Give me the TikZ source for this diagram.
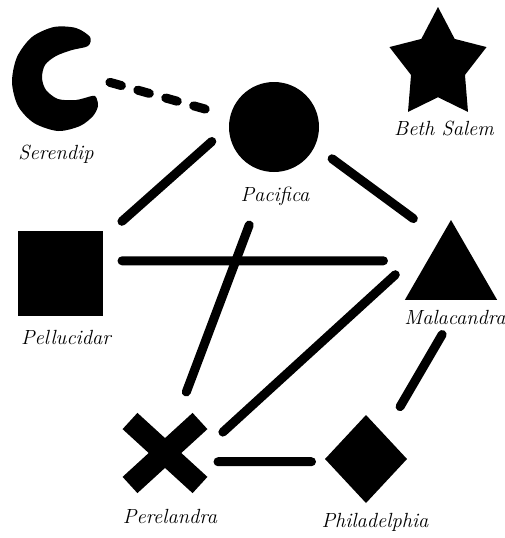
\documentclass[tikz,border=0pt]{standalone}
\usetikzlibrary{shapes.geometric,shapes.misc}
\begin{document}
\begin{tikzpicture}[x=1pt,y=-1pt,line cap=round,
  blob/.style={fill=black,inner sep=0pt,outer sep=0pt},
  road/.style={line width=9pt},
  dashes/.style={dash pattern=on 12pt off 17pt},
  lbl/.style={font=\fontsize{20.5}{23}\selectfont\itshape}]
\useasboundingbox (0,0) rectangle (505,538);
% places
\node[circle,inner sep=0pt,outer sep=0pt,minimum size=96pt] (ser) at (62,79) {};
\fill plot[smooth cycle,tension=0.5] coordinates {(90,37) (76,28) (54,27) (32,37) (17,57) (12,82) (18,106) (34,123) (58,131) (80,126) (93,116) (98,106) (96,97) (92,96) (76,100) (58,99) (46,90) (42,78) (45,65) (56,56) (72,50) (88,46)};
\node[blob,circle,minimum size=90pt] (pac) at (274,127) {};
\node[blob,star,star points=5,star point ratio=1.8,minimum size=116pt,xscale=0.88] (beth) at (438,65) {};
\node[blob,rectangle,minimum size=85pt] (pel) at (60,273) {};
\node[blob,regular polygon,regular polygon sides=3,minimum size=106.6pt] (mal) at (451,273.3) {};
\node[blob,diamond,minimum width=82pt,minimum height=88pt] (phi) at (366,459) {};
\node[cross out,draw,line width=22pt,line cap=butt,inner sep=0pt,outer sep=0pt,minimum width=70pt,minimum height=64pt] (per) at (165,453) {};
% roads
\draw[road,dashes,shorten >=19pt] (ser.-4) -- (pac.166);
\draw[road,shorten <=26pt,shorten >=23pt] (pel.39) -- (pac.179);
\draw[road,shorten <=21.5pt,shorten >=33.5pt] (pac.-25) -- (mal.107);
\draw[road,shorten <=19.5pt,shorten >=44pt] (pel.16) -- (mal.152);
\draw[road,shorten <=57pt,shorten >=31pt] (pac.-96) -- (per.72);
\draw[road,shorten <=69pt,shorten >=31pt] (mal.96) -- (per.0);
\draw[road,shorten <=18pt,shorten >=16pt] (per.-14) -- (phi.184);
\draw[road,shorten <=40pt,shorten >=32pt] (mal.-67) -- (phi.54);
% names
\node[lbl] (serl) at (56,154) {Serendip};
\node[lbl] (bethl) at (444,128) {Beth Salem};
\node[lbl] (pacl) at (275,196) {Pacifica};
\node[lbl] (pell) at (66,337) {Pellucidar};
\node[lbl] (mall) at (455,317) {Malacandra};
\node[lbl] (perl) at (170,516) {Perelandra};
\node[lbl] (phil) at (375,522) {Philadelphia};
\end{tikzpicture}
\end{document}
